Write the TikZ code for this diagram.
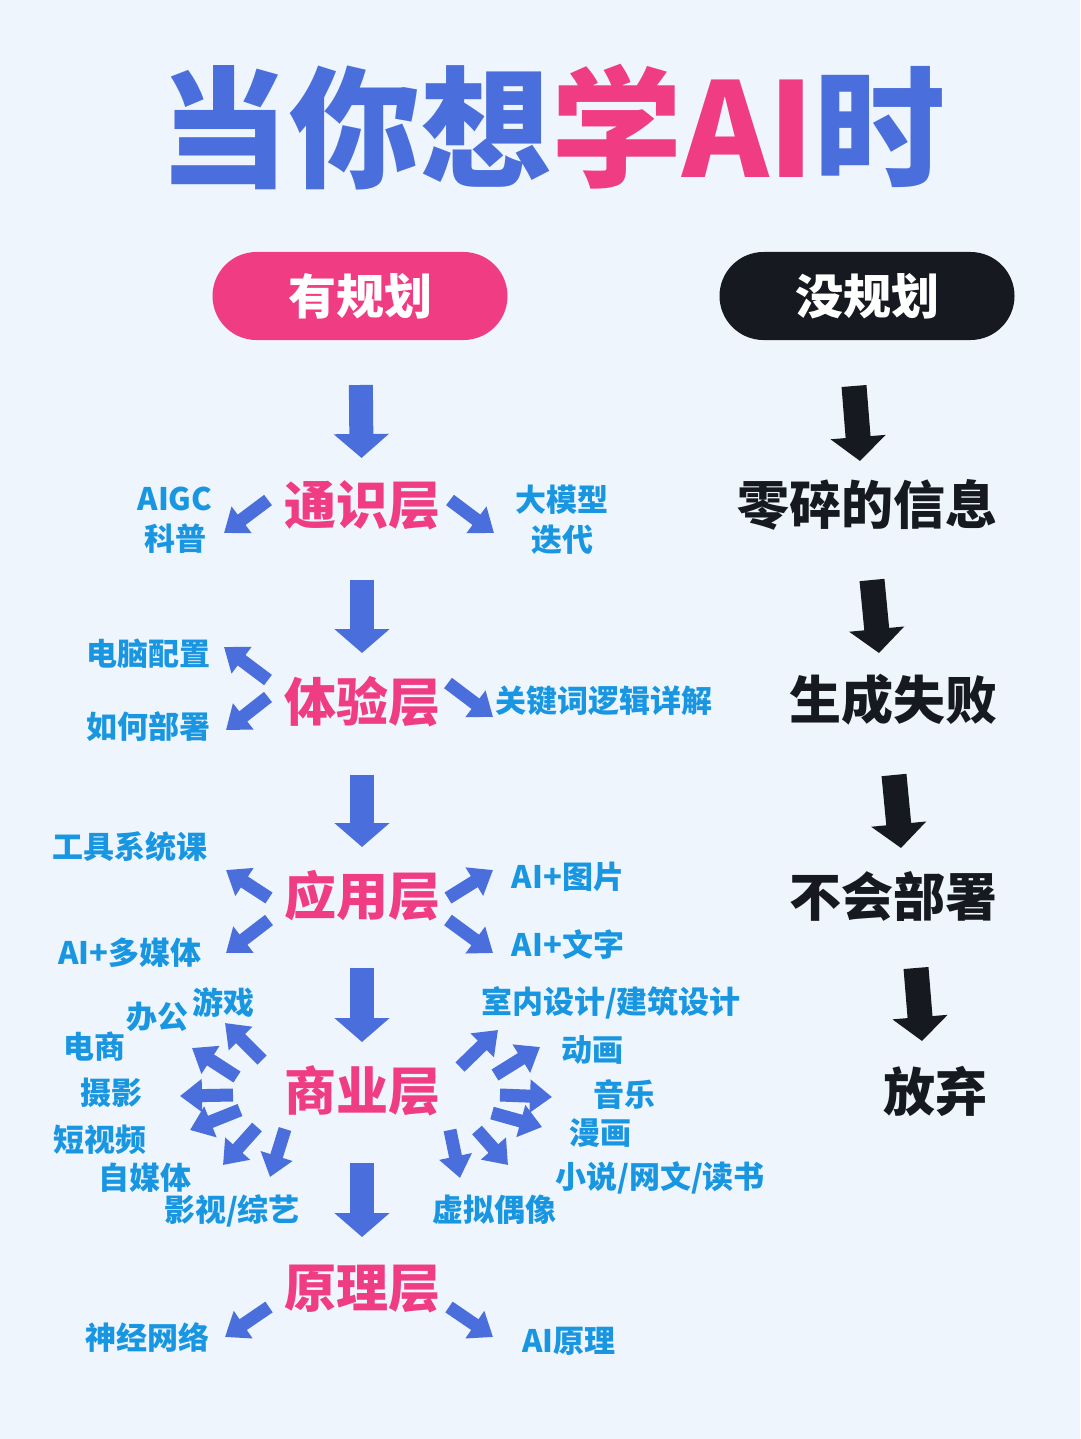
\documentclass[tikz,border=0pt]{standalone}
\usepackage{fontspec}
\usetikzlibrary{arrows.meta}
\newfontfamily\cjk{Noto Sans CJK SC}
\IfFontExistsTF{Noto Sans CJK SC Black}
  {\newfontfamily\cjkheavy{Noto Sans CJK SC Black}}
  {\newcommand\cjkheavy{\cjk\bfseries}}

\definecolor{bgc}{HTML}{EFF5FC}
\definecolor{bluec}{HTML}{4A6FDC}
\definecolor{pinkc}{HTML}{F03C82}
\definecolor{cyanc}{HTML}{1996E1}
\definecolor{inkc}{HTML}{16191F}

\tikzset{
  pill/.style={minimum width=295pt, minimum height=88pt, rounded corners=44pt,
    inner sep=0pt, text=white, font=\cjk\bfseries\fontsize{48}{56}\selectfont},
  layer/.style={inner sep=0pt, text=pinkc, font=\cjk\bfseries\fontsize{52}{60}\selectfont},
  sub/.style={inner sep=0pt, text=cyanc, align=center,
    font=\cjk\bfseries\fontsize{31}{40}\selectfont},
  fate/.style={inner sep=0pt, text=inkc, font=\cjk\bfseries\fontsize{52}{60}\selectfont},
  downarrow/.style={draw=bluec, line width=24pt, -{Triangle[width=54pt,length=24pt]},
    shorten <=73pt, shorten >=49pt},
  sidearrow/.style={draw=bluec, line width=13pt, -{Triangle[width=32pt,length=22pt]}},
  blackarrow/.style={draw=inkc, line width=25pt, -{Triangle[width=54pt,length=24pt]}},
}

\begin{document}
\begin{tikzpicture}[x=1pt, y=-1pt]
  \fill[bgc] (0,0) rectangle (1080,1439);
  \useasboundingbox (0,0) rectangle (1080,1439);

  % title
  \node[inner sep=0pt, font=\cjkheavy\fontsize{131}{136}\selectfont] (title) at (552,127)
    {{\color{bluec}当你想}{\color{pinkc}学AI}{\color{bluec}时}};

  % the two ways
  \node[pill, fill=pinkc] (plan) at (360,296) {有规划};
  \node[pill, fill=inkc] (noplan) at (867,296) {没规划};

  % layers
  \node[layer] (tongshi)  at (362,505)  {通识层};
  \node[layer] (tiyan)    at (362,702)  {体验层};
  \node[layer] (yingyong) at (362,896)  {应用层};
  \node[layer] (shangye)  at (362,1091) {商业层};
  \node[layer] (yuanli)   at (362,1289) {原理层};

  \draw[downarrow, shorten <=89pt, shorten >=47pt] (plan.center) -- (tongshi.center);
  \draw[downarrow, shorten <=75pt] (tongshi.center) -- (tiyan.center);
  \draw[downarrow] (tiyan.center) -- (yingyong.center);
  \draw[downarrow, shorten <=72pt, shorten >=49pt] (yingyong.center) -- (shangye.center);
  \draw[downarrow, shorten <=72pt, shorten >=52pt] (shangye.center) -- (yuanli.center);

  % 通识层
  \node[sub] (aigc) at (175,520) {AIGC\\科普};
  \node[sub] (damoxing) at (562,520) {大模型\\迭代};
  \draw[sidearrow] ([shift={(-94,-5)}]tongshi.center) -- ([shift={(-138,28)}]tongshi.center);
  \draw[sidearrow] ([shift={(88,-5)}]tongshi.center) -- ([shift={(132,28)}]tongshi.center);

  % 体验层
  \node[sub] (diannao) at (148,654) {电脑配置};
  \node[sub] (bushu) at (148,727) {如何部署};
  \node[sub] (guanjian) at (604,701) {关键词逻辑详解};
  \draw[sidearrow] ([shift={(-94,-22)}]tiyan.center) -- ([shift={(-138,-55)}]tiyan.center);
  \draw[sidearrow] ([shift={(-94,-5)}]tiyan.center) -- ([shift={(-136,28)}]tiyan.center);
  \draw[sidearrow] ([shift={(86,-19)}]tiyan.center) -- ([shift={(131,15)}]tiyan.center);

  % 应用层
  \node[sub] (gongju) at (130,847) {工具系统课};
  \node[sub] (duomeiti) at (130,953) {AI+多媒体};
  \node[sub] (tupian) at (568,877) {AI+图片};
  \node[sub] (wenzi) at (568,944) {AI+文字};
  \foreach \a/\b in {{(-93,2)}/{(-136,-26)}, {(-93,24)}/{(-136,57)},
                     {(86,2)}/{(131,-26)}, {(86,24)}/{(131,57)}}
    \draw[sidearrow] ([shift=\a]yingyong.center) -- ([shift=\b]yingyong.center);

  % 商业层
  \node[sub] (bangong) at (157,1017) {办公};
  \node[sub] (youxi) at (223,1003) {游戏};
  \node[sub] (dianshang) at (94,1047) {电商};
  \node[sub] (sheying) at (111,1093) {摄影};
  \node[sub] (duanshipin) at (100,1140) {短视频};
  \node[sub] (zimeiti) at (145,1178) {自媒体};
  \node[sub] (yingshi) at (232,1211) {影视/综艺};
  \node[sub] (shinei) at (611,1003) {室内设计/建筑设计};
  \node[sub] (donghua) at (592,1050) {动画};
  \node[sub] (yinyue) at (624,1095) {音乐};
  \node[sub] (manhua) at (600,1133) {漫画};
  \node[sub] (xiaoshuo) at (660,1178) {小说/网文/读书};
  \node[sub] (xuni) at (494,1210) {虚拟偶像};
  \foreach \a/\b in {{(-100,-31)}/{(-137,-68)}, {(-125,-14)}/{(-170,-43)},
                     {(-129,4)}/{(-182,5)}, {(-122,19)}/{(-172,39)},
                     {(-105,36)}/{(-139,74)}, {(-77,38)}/{(-92,86)},
                     {(98,-24)}/{(136,-61)}, {(133,-16)}/{(178,-44)},
                     {(138,4)}/{(190,6)}, {(130,22)}/{(180,36)},
                     {(115,39)}/{(146,74)}, {(88,39)}/{(98,87)}}
    \draw[sidearrow] ([shift=\a]shangye.center) -- ([shift=\b]shangye.center);

  % 原理层
  \node[sub] (shenjing) at (147,1337) {神经网络};
  \node[sub] (ailiyuan) at (569,1341) {AI原理};
  \draw[sidearrow] ([shift={(-93,18)}]yuanli.center) -- ([shift={(-137,48)}]yuanli.center);
  \draw[sidearrow] ([shift={(87,18)}]yuanli.center) -- ([shift={(131,48)}]yuanli.center);

  % 没规划
  \node[fate] (suipian) at (867,505) {零碎的信息};
  \node[fate] (shibai) at (893,700) {生成失败};
  \node[fate] (buhui) at (893,896) {不会部署};
  \node[fate] (fangqi) at (935,1091) {放弃};
  \draw[blackarrow] ([shift={(-13,-119)}]suipian.center) -- ([shift={(-7,-44)}]suipian.center);
  \draw[blackarrow] ([shift={(-21,-120)}]shibai.center) -- ([shift={(-14,-47)}]shibai.center);
  \draw[blackarrow] ([shift={(1,-121)}]buhui.center) -- ([shift={(8,-48)}]buhui.center);
  \draw[blackarrow] ([shift={(-19,-123)}]fangqi.center) -- ([shift={(-13,-50)}]fangqi.center);
\end{tikzpicture}
\end{document}
